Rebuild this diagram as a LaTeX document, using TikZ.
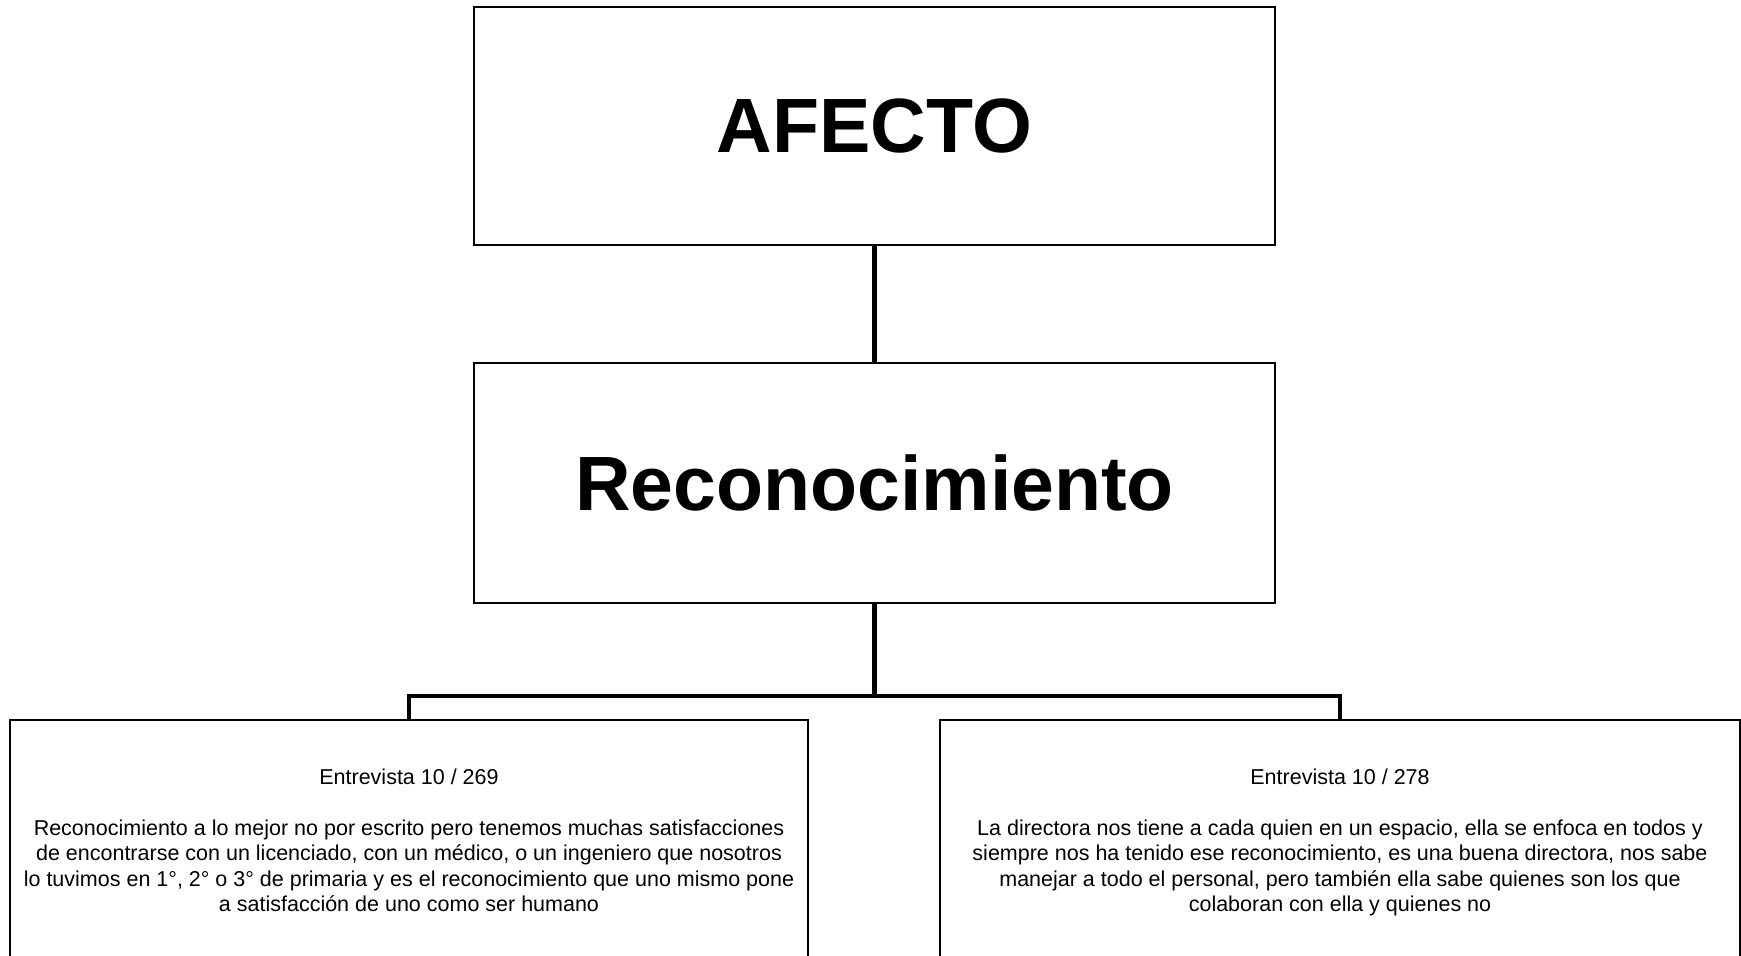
\documentclass[tikz,border=0pt]{standalone}
\usepackage{fontspec}
\setmainfont{Liberation Sans}
\begin{document}
\begin{tikzpicture}[x=1pt,y=-1pt,
  box/.style={draw=black,line width=1.5pt,fill=white,inner sep=0pt},
  titlebox/.style={box,minimum width=801pt,font=\fontsize{77}{90}\selectfont\bfseries},
  quotebox/.style={box,minimum height=246pt,align=center,font=\fontsize{21.5}{25.5}\selectfont},
  conn/.style={draw=black,line width=4.8pt}]
\clip (0,0) rectangle (1741,956);
\fill[white] (0,0) rectangle (1741,956);
\node[titlebox,minimum height=238pt] (top) at (874.5,126) {AFECTO};
\node[titlebox,minimum height=240pt] (mid) at (874.5,483) {Reconocimiento};
\node[quotebox,minimum width=798pt,anchor=north] (left) at (409,719) {\strut Entrevista 10 / 269\\[25.5pt]
\strut Reconocimiento a lo mejor no por escrito pero tenemos muchas satisfacciones\\
\strut de encontrarse con un licenciado, con un médico, o un ingeniero que nosotros\\
\strut lo tuvimos en 1°, 2° o 3° de primaria y es el reconocimiento que uno mismo pone\\
\strut a satisfacción de uno como ser humano};
\node[quotebox,minimum width=800pt,anchor=north] (right) at (1340,719) {\strut Entrevista 10 / 278\\[25.5pt]
\strut La directora nos tiene a cada quien en un espacio, ella se enfoca en todos y\\
\strut siempre nos ha tenido ese reconocimiento, es una buena directora, nos sabe\\
\strut manejar a todo el personal, pero también ella sabe quienes son los que\\
\strut colaboran con ella y quienes no};
\coordinate (bus) at (874.5,696);
\draw[conn] (top.south) -- (mid.north);
\draw[conn] (mid.south) -- (bus);
\draw[conn] (left.north) |- (bus) -| (right.north);
\end{tikzpicture}
\end{document}
